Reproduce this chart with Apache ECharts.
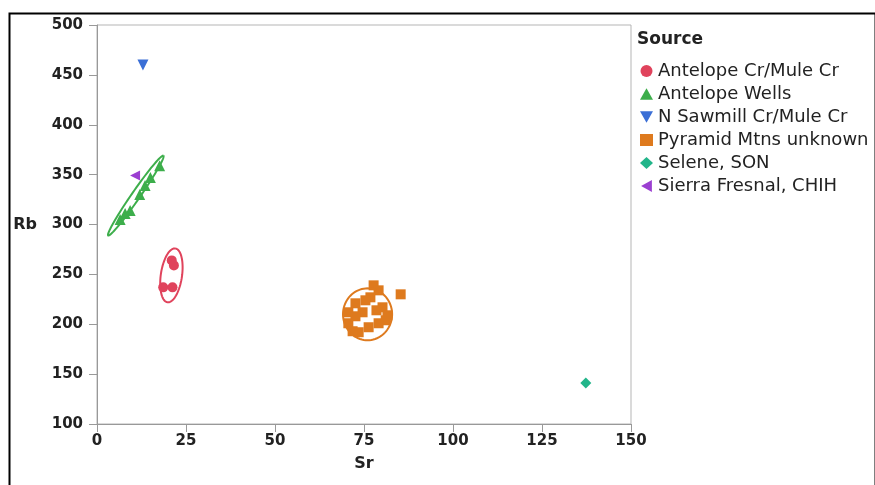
<!DOCTYPE html>
<html>
<head>
<meta charset="utf-8">
<script src="https://cdn.jsdelivr.net/npm/echarts@6/dist/echarts.min.js"></script>
<style>
  html, body { margin: 0; padding: 0; background: #fff; }
  #chart { width: 875px; height: 485px; }
</style>
</head>
<body>
<div id="chart"></div>
<script>
// Rb vs Sr (ppm) by obsidian source, with density ellipses
const sources = [
  'Antelope Cr/Mule Cr',
  'Antelope Wells',
  'N Sawmill Cr/Mule Cr',
  'Pyramid Mtns unknown',
  'Selene, SON',
  'Sierra Fresnal, CHIH'
];

// [Sr, Rb] pairs per source
const antelopeCrMuleCr = [[21.0, 264], [21.6, 259], [18.6, 237], [21.2, 237]];
const antelopeWells = [[17.6, 359], [15.0, 347], [13.5, 339], [12.0, 330], [9.3, 314], [7.9, 311], [6.5, 305]];
const nSawmillCrMuleCr = [[12.9, 460]];
const pyramidMtns = [
  [77.7, 239], [79.1, 234], [72.6, 221], [70.6, 212], [74.6, 212],
  [80.2, 217], [81.1, 204], [70.6, 201], [76.3, 197], [79.1, 201],
  [73.5, 192], [71.8, 193], [76.8, 227], [81.6, 209], [85.3, 230],
  [75.4, 224], [72.6, 208], [78.5, 214]
];
const seleneSON = [[137.3, 141]];
const sierraFresnal = [[10.7, 349]];

// Ellipse parameters: centre [Sr, Rb], major half-axis [dSr, dRb], minor half-axis [dSr, dRb]
const ellipseCentres = [[20.9, 249], [10.9, 329], [76.0, 210]];
const ellipseMajor = [[1.1, 27], [7.75, 40], [0, 26]];
const ellipseMinor = [[2.95, -1.5], [1.0, -2.2], [6.9, 0]];
const ellipseSourceIdx = [0, 1, 3];

// Axis ticks
const xTicks = [0, 25, 50, 75, 100, 125, 150];
const yTicks = [100, 150, 200, 250, 300, 350, 400, 450, 500];

const colors = ['#E0435C', '#3DAE4B', '#3B6FD6', '#DE7A1E', '#22B58A', '#9B3FD1'];
const symbols = [
  'circle',
  'path://M5,0 L10,9 L0,9 Z',
  'path://M0,0 L10,0 L5,9 Z',
  'rect',
  'diamond',
  'path://M9,0 L9,10 L0,5 Z'
];
const sizes = [10, 11, 11, 10, 11, 10];
const seriesData = [antelopeCrMuleCr, antelopeWells, nSawmillCrMuleCr, pyramidMtns, seleneSON, sierraFresnal];

const tickFont = { fontFamily: 'DejaVu Sans', fontWeight: 'bold', fontSize: 15, color: '#222' };
const titleFont = { fontFamily: 'DejaVu Sans', fontWeight: 'bold', fontSize: 16, color: '#222' };

const series = sources.map((name, i) => ({
  name: name,
  type: 'scatter',
  data: seriesData[i],
  symbol: symbols[i],
  symbolSize: sizes[i],
  itemStyle: { color: colors[i], opacity: 1 },
  z: 3
}));

ellipseCentres.forEach((c, k) => {
  const si = ellipseSourceIdx[k];
  series.push({
    name: sources[si] + ' ellipse',
    type: 'custom',
    data: [[c[0], c[1]]],
    z: 4,
    silent: true,
    renderItem: function (params, api) {
      const pts = [];
      const n = 80;
      for (let j = 0; j <= n; j++) {
        const t = (j / n) * Math.PI * 2;
        const sr = c[0] + Math.cos(t) * ellipseMajor[k][0] + Math.sin(t) * ellipseMinor[k][0];
        const rb = c[1] + Math.cos(t) * ellipseMajor[k][1] + Math.sin(t) * ellipseMinor[k][1];
        pts.push(api.coord([sr, rb]));
      }
      return {
        type: 'polyline',
        shape: { points: pts },
        style: { stroke: colors[si], lineWidth: 2, fill: null }
      };
    }
  });
});

const chart = echarts.init(document.getElementById('chart'));
chart.setOption({
  animation: false,
  backgroundColor: '#fff',
  grid: {
    left: 97, top: 25, right: 244, bottom: 61,
    show: true, borderColor: '#b5b5b5', borderWidth: 1
  },
  xAxis: {
    type: 'value',
    min: xTicks[0], max: xTicks[xTicks.length - 1], interval: 25,
    name: 'Sr', nameLocation: 'middle', nameGap: 32,
    nameTextStyle: titleFont,
    axisLine: { lineStyle: { color: '#999' } },
    axisTick: { show: true, length: 8, lineStyle: { color: '#999' } },
    axisLabel: Object.assign({ margin: 10 }, tickFont),
    splitLine: { show: false }
  },
  yAxis: {
    type: 'value',
    min: yTicks[0], max: yTicks[yTicks.length - 1], interval: 50,
    name: 'Rb', nameLocation: 'middle', nameGap: 60, nameRotate: 0,
    nameTextStyle: titleFont,
    axisLine: { show: true, lineStyle: { color: '#999' } },
    axisTick: { show: true, length: 8, lineStyle: { color: '#999' } },
    axisLabel: Object.assign({ margin: 14 }, tickFont),
    splitLine: { show: false }
  },
  legend: {
    data: sources,
    orient: 'vertical',
    left: 635, top: 57,
    itemWidth: 13, itemHeight: 12,
    itemGap: 5,
    textStyle: { fontFamily: 'DejaVu Sans', fontSize: 18, color: '#222', lineHeight: 18 }
  },
  graphic: [
    {
      type: 'text', left: 637, top: 31,
      style: { text: 'Source', fontFamily: 'DejaVu Sans', fontWeight: 'bold', fontSize: 17, fill: '#222' }
    },
    {
      type: 'rect', left: 7, top: 11,
      shape: { width: 866, height: 490 },
      style: { stroke: '#000', lineWidth: 2, fill: null },
      silent: true
    }
  ],
  series: series
});
</script>
</body>
</html>
